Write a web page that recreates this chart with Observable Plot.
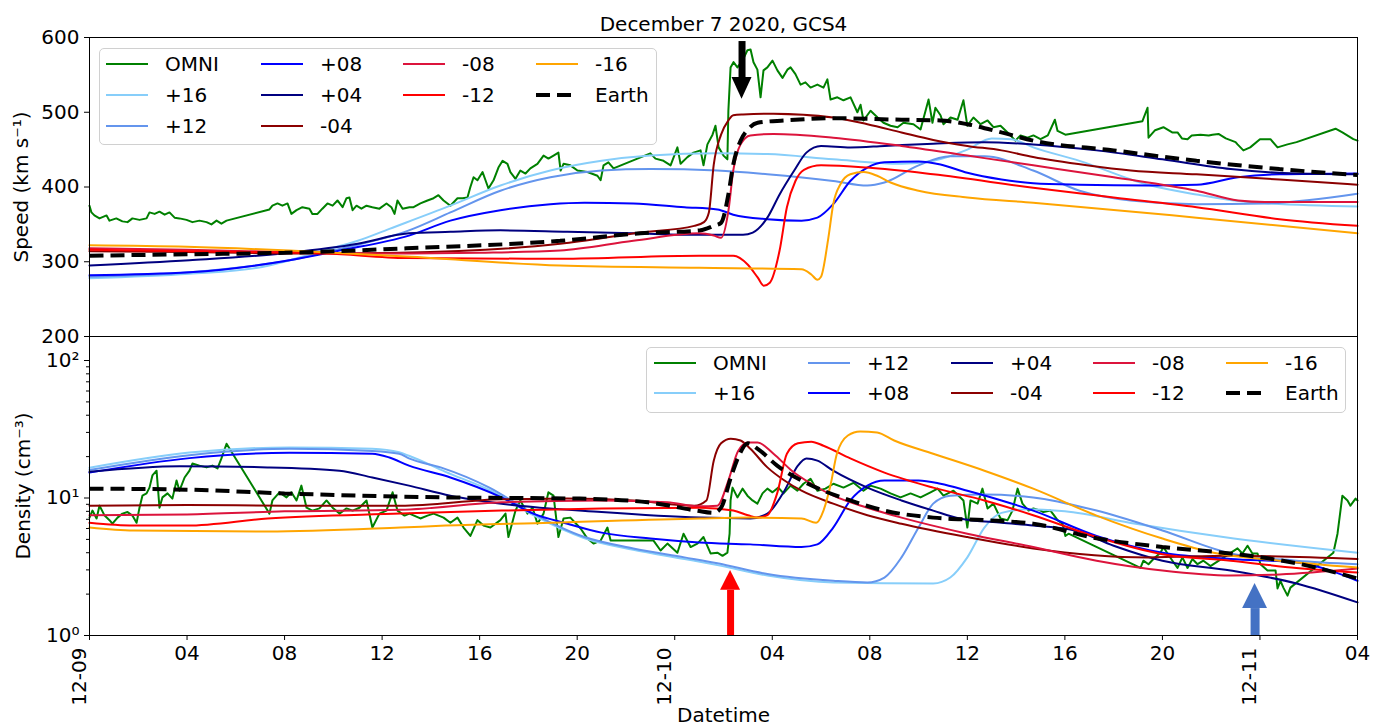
<!DOCTYPE html>
<html><head><meta charset="utf-8">
<script src="https://cdn.jsdelivr.net/npm/d3@7"></script>
<script src="https://cdn.jsdelivr.net/npm/@observablehq/plot@0.6"></script>
<style>
body{margin:0;background:#fff;font-family:"DejaVu Sans",sans-serif;}
#wrap{position:relative;width:1386px;height:728px;overflow:hidden;background:#fff;}
#wrap > svg{display:block;}
.legend{position:absolute;background:rgba(255,255,255,0.8);border:1px solid #d0d0d0;border-radius:5px;box-sizing:border-box;font-size:20px;color:#000;font-family:"DejaVu Sans",sans-serif;}
.lcol{position:absolute;top:0;}
.lent{display:flex;align-items:center;white-space:nowrap;}
.lent svg{flex:none;margin-right:17px;display:block;}
</style></head><body><div id="wrap"></div><script>
// ---------- axis ticks ----------
const hourTicks = [4, 8, 12, 16, 20, 28, 32, 36, 40, 44, 52];
const hourTickLabels = ["04", "08", "12", "16", "20", "04", "08", "12", "16", "20", "04"];
const dayTicks = [0, 24, 48];
const dayTickLabels = ["12-09", "12-10", "12-11"];
const allXTicks = [0, 4, 8, 12, 16, 20, 24, 28, 32, 36, 40, 44, 48, 52];
const speedTicks = [200, 300, 400, 500, 600];
const densityTicks = [1, 10, 100];
const densityTickLabels = ["10\u2070", "10\u00b9", "10\u00b2"];
const densityMinorTicks = [2, 3, 4, 5, 6, 7, 8, 9, 20, 30, 40, 50, 60, 70, 80, 90];
const speedDomain = [200, 600];
const densityDomain = [1, 149.5];
const hoursSpan = [0, 52];

// ---------- series ----------
const seriesNames = ["OMNI", "+16", "+12", "+08", "+04", "-04", "-08", "-12", "-16", "Earth"];
const seriesColors = ["#008000", "#87cefa", "#6495ed", "#0000ff", "#000080", "#8b0000", "#dc143c", "#ff0000", "#ffa500", "#000000"];

// [hour since 2020-12-09 00:00 UT, speed km/s]
const omniSpeed = [[0,375],[0.08,366],[0.2,362],[0.41,358],[0.7,362],[0.82,355],[1.1,358],[1.35,354],[1.56,353],[1.76,358],[2.05,356],[2.34,358],[2.46,366],[2.67,364],[2.87,367],[3.08,363],[3.28,366],[3.49,359],[3.69,358],[3.98,356],[4.22,353],[4.51,355],[4.8,353],[5.0,350],[5.21,355],[5.41,351],[5.62,355],
[7.38,370],[7.5,375],[7.71,378],[7.91,375],[8.12,378],[8.28,364],[8.49,369],[8.73,373],[9.02,371],[9.14,364],[9.35,364],[9.55,371],[9.76,378],[9.97,375],[10.17,382],[10.38,373],[10.54,385],[10.66,386],[10.79,369],[10.95,375],[11.15,371],[11.36,375],[11.6,373],[11.89,371],[12.18,378],[12.38,373],[12.51,364],[12.63,382],[12.84,371],[13.12,373],
[13.29,373],[13.57,378],[13.86,382],[14.11,385],[14.31,389],[14.52,382],[14.8,375],[15.09,385],[15.3,385],[15.5,386],[15.62,400],[15.75,413],[15.91,409],[16.12,420],[16.24,409],[16.36,398],[16.57,409],[16.77,426],[16.94,435],[17.14,431],[17.26,420],[17.47,411],[17.67,422],[17.88,418],[18.08,425],[18.37,431],[18.62,442],[18.82,438],[19.03,442],[19.23,446],[19.32,422],[19.44,431],[19.72,429],[20.01,422],[20.42,420],[20.83,415],[20.96,409],[21.08,429],[21.28,433],[21.49,425],
[23.0,445],[23.21,438],[23.54,435],[23.83,429],[24.11,453],[24.24,431],[24.52,440],[24.77,446],[25.06,449],[25.18,429],[25.34,457],[25.55,470],[25.67,482],[25.8,453],[26.0,442],[26.16,437],[26.2,502],[26.29,560],[26.41,567],[26.57,560],[26.78,569],[26.98,583],[27.11,584],[27.23,567],[27.39,557],[27.52,520],[27.64,556],[27.8,560],[28.01,569],[28.21,556],[28.42,546],[28.62,557],[28.75,560],[28.95,551],[29.16,537],[29.36,540],[29.57,533],[29.85,537],[30.1,533],[30.26,544],[30.39,517],[30.67,520],[30.92,516],[31.21,520],[31.49,500],[31.62,510],[31.74,489],[32.03,502],[32.32,493],[32.56,486],[32.85,482],[33.14,480],[33.38,486],[33.79,484],[34.08,477],[34.41,517],[34.57,486],[34.69,506],[34.9,496],[35.02,484],[35.31,493],[35.6,490],[35.84,516],[36.0,482],[36.25,493],[36.54,484],[36.83,489],[37.07,480],[37.36,482],[37.65,473],[37.97,462],[38.18,469],[38.47,466],[38.71,469],[39.0,464],[39.3,469],[39.59,490],[39.7,475],[40.02,470],
[43.18,488],[43.39,506],[43.43,466],[43.7,476],[44.04,480],[44.4,473],[44.62,473],[44.8,465],[45.03,464],[45.2,469],[45.56,470],[45.9,469],[46.05,470],[46.3,471],[46.6,465],[47.0,460],[47.08,457],[47.32,449],[47.6,453],[48.0,464],[48.43,464],[48.72,453],[49.13,457],[49.5,460],
[51.1,478],[51.38,473],[51.83,464],[52,462]];
const spdP16 = [[0,278],[4.1,284],[6.9,292],[9.6,315],[11,328],[12.3,344],[14.8,375],[16.85,402],[18.9,422],[21,435],[23,442],[25.75,445],[27.8,444],[30.5,437],[33.3,431],[34.6,435],[36,450],[37,465],[37.8,464],[38.7,453],[40.6,435],[43.4,403],[45.4,390],[47.5,380],[52,374]];
const spdP12 = [[0,280],[4.1,286],[8.2,302],[10.25,317],[13.1,342],[14.8,366],[16.85,395],[18.9,413],[21,422],[23,424],[25.75,422],[27.8,417],[30.5,408],[31.9,402],[32.6,406],[34,429],[35.3,441],[36.7,441],[38.7,422],[40.6,395],[42.7,382],[45.4,377],[48.2,378],[52,391]];
const spdP08 = [[0,282],[4.1,286],[8.2,302],[10.25,315],[13.1,335],[14.8,355],[16.85,369],[18.9,377],[20.3,379],[22.3,378],[24.4,373],[25.75,370],[26.4,363],[27.8,357],[29.2,355],[29.85,359],[30.5,377],[31.2,408],[31.9,426],[32.6,433],[34,434],[34.9,430],[36,419],[37.4,410],[38.7,405],[40.6,403],[43.4,402],[45.4,403],[47.1,413],[48.8,417],[52,418]];
const spdP04 = [[0,295],[4.1,302],[8.2,312],[11,324],[13.1,338],[14.8,340],[16.85,342],[19.6,340],[22.3,338],[25,336],[26.8,336],[27.2,339],[27.8,359],[28.3,390],[28.9,422],[29.4,446],[30,455],[31.2,453],[32.6,455],[34.6,458],[36.7,460],[38.7,457],[41.3,449],[44,437],[46.8,424],[49.5,418],[52,417]];
const spdM04 = [[0,314],[4,313],[9.7,311],[12.75,312],[19.3,324],[22.6,339],[24.8,348],[25.2,353],[25.4,366],[25.6,430],[25.9,470],[26.2,489],[26.4,496],[26.8,497],[28.05,498],[30.5,493],[31.9,484],[33.3,473],[34.6,463],[36,455],[37.4,449],[38.7,440],[40.9,429],[42.7,422],[45.4,417],[48.8,410],[52,403]];
const spdM08 = [[0,318],[4,316],[9.7,312],[12.75,311],[16,312],[19.3,315],[22.3,328],[25,338],[25.6,335],[25.9,332],[26.2,368],[26.4,422],[26.7,457],[27.1,469],[28.05,471],[30.5,466],[33.3,455],[36,442],[38.7,429],[42,413],[45.4,395],[47.1,382],[48.2,380],[52,380]];
const spdM12 = [[0,316],[4,314],[9.7,311],[13,305],[19.3,304],[25,308],[26.4,308],[27.0,296],[27.4,279],[27.65,268],[27.9,272],[28.3,315],[28.6,373],[28.95,408],[29.3,423],[30,429],[31.9,426],[34.6,417],[38.7,399],[42,386],[45.4,373],[48.8,357],[52,348]];
const spdM16 = [[0,322],[4,320],[8.2,315],[13,307],[19.3,295],[25,292],[29.2,290],[29.6,283],[29.85,276],[30.0,280],[30.3,332],[30.5,377],[30.8,404],[31.2,417],[31.75,420],[32.3,415],[32.85,406],[34,395],[36,386],[38.7,379],[45.4,359],[52,338]];
const spdEarth = [[0,308],[4,310],[8,312],[13,318],[19.3,328],[22.6,338],[25.05,342],[25.6,348],[25.9,352],[26.2,390],[26.4,430],[26.7,462],[27.0,477],[27.4,486],[28.5,489],[30.5,492],[33.3,490],[34.9,489],[36.0,484],[37.4,473],[38.7,462],[42.0,449],[45.4,435],[48.8,424],[52,416]];

// [hour, density cm^-3]
const omniDensity = [[0,7.2],[0.12,8.1],[0.29,7.1],[0.41,8.8],[0.62,7.45],[0.82,6.9],[0.94,6.5],[1.15,7.2],[1.35,7.7],[1.56,7.9],[1.76,7.45],[1.93,6.6],[2.05,8.5],[2.17,10.4],[2.34,10.8],[2.46,11.9],[2.58,14.6],[2.75,15.8],[2.87,8.5],[2.99,10.1],[3.2,10.8],[3.4,9.9],[3.57,13.4],[3.69,11.3],[3.9,14.1],[4.1,15.8],[4.22,17.8],[4.51,17.2],[4.8,16.7],[5.04,17.2],[5.25,16.4],[5.41,19.4],[5.62,24.8],
[7.38,7.7],[7.5,9.6],[7.79,11.0],[8.08,10.1],[8.28,11.0],[8.49,9.6],[8.69,12.3],[8.9,8.5],[9.14,8.1],[9.43,8.4],[9.72,9.6],[9.97,8.5],[10.25,7.7],[10.54,8.4],[10.79,8.1],[11.07,8.5],[11.36,9.6],[11.6,6.1],[11.89,7.7],[12.18,8.1],[12.43,11.0],[12.63,8.1],[12.92,7.45],[13.12,7.7],[13.57,7.1],[13.86,7.45],[14.11,7.7],[14.52,7.2],[14.8,6.6],[15.09,7.2],[15.34,6.1],[15.62,5.3],[15.91,6.9],[16.16,6.3],[16.44,6.1],[16.85,6.9],[17.06,7.7],[17.18,5.2],[17.47,8.1],[17.67,9.6],[17.96,7.7],[18.17,8.5],[18.37,6.5],[18.62,7.7],[18.82,11.0],[19.03,10.4],[19.23,5.2],[19.44,7.1],[19.72,7.2],[20.14,6.0],[20.42,5.07],[20.67,4.66],[20.96,4.9],[21.24,6.1],[21.37,4.9],
[23.13,4.9],[23.42,4.15],[23.7,4.66],[24.11,4.0],[24.36,5.5],[24.65,4.4],[24.93,4.66],[25.18,5.2],[25.47,3.95],[25.75,4.0],[25.96,3.8],[26.16,4.0],[26.25,5.5],[26.29,9.6],[26.37,11.9],[26.57,10.1],[26.78,11.7],[26.98,10.4],[27.19,9.6],[27.39,9.1],[27.6,10.8],[27.8,11.7],[28.01,11.0],[28.25,11.9],[28.46,10.8],[28.75,12.3],[29.03,11.3],[29.28,12.7],[29.57,13.8],[29.85,11.3],[30.18,11.7],[30.51,12.7],[30.92,11.9],[31.33,12.9],[31.74,11.3],[32.03,12.3],[32.44,11.7],[32.85,10.8],[33.26,10.1],[33.67,10.8],[34.08,10.1],[34.49,11.0],[34.78,11.7],[35.02,10.4],[35.43,11.3],[35.84,9.6],[36.0,6.1],[36.13,9.6],[36.42,9.1],[36.62,11.7],[36.83,8.4],[37.07,9.1],[37.36,7.1],[37.65,6.9],[37.85,8.1],[38.06,11.7],[38.26,9.1],[38.51,8.1],[38.71,8.4],[39.0,8.1],[39.12,7.9],[39.41,8.1],[39.7,6.9],[39.9,6.5],[39.94,6.1],[40.02,5.3],[40.15,5.5],
[43.1,3.1],[43.22,3.5],[43.43,3.3],[43.63,3.6],[43.92,4.0],[44.04,4.4],[44.21,3.95],[44.41,3.5],[44.62,3.1],[44.82,3.7],[45.03,3.1],[45.23,3.6],[45.44,3.3],[45.68,3.5],[45.97,3.2],
[47.08,4.3],[47.28,3.95],[47.49,4.5],[47.69,3.95],[47.9,3.95],[48.02,3.3],[48.31,2.97],[48.64,2.97],[48.72,2.2],[48.84,2.5],[48.96,2.23],[49.13,1.95],[49.25,2.23],
[51.01,4.0],[51.18,5.5],[51.38,10.4],[51.59,9.6],[51.71,8.8],[51.92,9.9],[52,9.6]];
const denP16 = [[0,16.6],[4.1,21.4],[8.2,23.3],[11.6,22.8],[12.7,21.5],[13.1,20.3],[14.6,15.5],[16.5,11.2],[18.2,7.5],[20.3,5.1],[22.3,4.2],[24.4,3.6],[25.75,3.25],[27.8,2.73],[30.5,2.43],[34.6,2.39],[35.3,2.64],[36,3.7],[36.7,6.1],[37.4,7.8],[38.5,8.3],[40,8.0],[42.9,6.5],[46.5,5.2],[52,4.0]];
const denP12 = [[0,16],[4.1,20.5],[8.2,22.8],[11.6,22],[12.7,21],[13.1,19.4],[14.4,16.7],[16.4,11.9],[18.2,7.7],[20.3,5.2],[22.3,4.3],[24.4,3.7],[25.75,3.35],[27.8,2.8],[30.5,2.5],[31.9,2.43],[32.6,2.64],[33.3,3.7],[34,6.1],[34.6,9.1],[35.3,10.4],[36.7,10.6],[38.7,10.1],[41.3,8.1],[44,5.8],[46.8,3.95],[49.5,3.5],[52,3.3]];
const denP08 = [[0,15.3],[4.1,19.5],[8.2,21.3],[11.6,21],[12.3,19.7],[13.1,17.2],[14.8,14.1],[16.9,10.1],[18.2,7.7],[19.6,6.5],[21,5.6],[23,5.07],[25,4.75],[27.1,4.6],[29.2,4.4],[29.85,4.6],[30.5,6.1],[31.2,9.6],[31.9,12.3],[32.6,13.4],[34,13.4],[34.9,12.7],[36,11.3],[37.4,9.6],[38.7,8.1],[41.3,5.3],[44,4.0],[46.8,3.6],[49.5,3.4],[52,2.5]];
const denP04 = [[0,15.5],[3.7,17.0],[7.3,16.7],[10.25,15.8],[11.6,14.1],[13.1,12.3],[14.8,10.4],[16.9,9.1],[21,7.9],[25,7.2],[27.1,7.1],[27.8,7.7],[28.5,11.3],[29.05,17.2],[29.4,19.4],[29.85,18.7],[30.5,15.8],[31.9,11.9],[33.3,9.6],[34.6,8.1],[35.7,7.1],[37.4,6.6],[38.7,6.3],[40.4,5.8],[42,4.5],[44,3.5],[46.8,2.97],[49.5,2.39],[52,1.74]];
const denM04 = [[0,8.8],[4,8.9],[8,8.8],[12.75,8.8],[16.9,9.8],[19.6,9.9],[22.3,9.6],[24.8,8.8],[25.3,9.6],[25.6,18.7],[25.9,25],[26.3,27],[26.7,26.2],[27.1,22.8],[27.8,16.7],[28.5,13.4],[29.2,11.3],[30.5,9.1],[31.9,7.5],[33.3,6.5],[36,5.2],[38.7,4.3],[43.4,3.7],[46.8,3.8],[52,3.6]];
const denM08 = [[0,7.5],[4,7.6],[8,8.0],[12.75,8.2],[16.9,9.3],[21,9.6],[23.7,9.3],[25,8.7],[25.75,8.8],[26.2,13.4],[26.6,22],[27,25.3],[27.4,25.3],[28.05,21],[28.8,15.8],[29.6,12.7],[30.5,10.4],[31.9,8.5],[33.3,7.2],[36,5.5],[38.7,4.4],[41.3,3.5],[44,2.97],[46.8,2.73],[48.8,2.78],[52,3.07]];
const denM12 = [[0,6.6],[1.8,6.3],[4,6.3],[7.3,7.1],[12.75,7.7],[16.9,8.1],[21,8.4],[25,8.5],[26.4,8.1],[27,7.5],[27.4,7.2],[27.8,7.5],[28.2,10.8],[28.6,21],[29.05,25],[29.6,25.7],[30.1,24],[31.2,19.4],[32.6,15.3],[34.6,11.9],[36.7,9.6],[38.7,7.5],[41.3,5.2],[44,3.9],[46.8,3.5],[49.5,3.1],[52,2.87]];
const denM16 = [[0,6.1],[1.8,5.8],[7.3,5.7],[12.75,6.1],[14.6,6.3],[18.9,6.6],[25,7.1],[27.1,7.2],[29.2,7.1],[29.8,6.6],[30.1,8.1],[30.4,12.7],[30.65,21],[31.1,28.5],[31.6,30.5],[32.3,30],[33,26.2],[34.6,21],[36.7,15.8],[38.7,11.7],[41.3,7.45],[44,5.07],[46.1,4.0],[48.8,3.5],[52,3.12]];
const denEarth = [[0,11.7],[4,11.5],[8,10.8],[14.6,10.1],[20.1,9.9],[22.9,9.3],[24.9,8.1],[25.6,7.8],[25.9,8.5],[26.3,14.1],[26.6,19.7],[27,25],[27.4,22.8],[28.2,17.2],[29.2,13.4],[30.1,11.3],[31.2,9.6],[32.6,8.1],[34.6,7.2],[36.7,6.9],[38.7,6.5],[41.3,5.1],[44,4.4],[46.8,3.95],[49.5,3.35],[52,2.6]];

// annotation arrows: [hour, shaft end, head base, tip, head half-width in hours]
const speedArrow = [26.76, 594.6, 546.5, 517.5, 0.41];
const redArrow = [26.29, 1, 2.13, 2.97, 0.41];
const blueArrow = [47.8, 1, 1.57, 2.39, 0.51];

const titleText = "December 7 2020, GCS4";
const speedLabel = "Speed (km s\u207b\u00b9)";
const densityLabel = "Density (cm\u207b\u00b3)";
const xLabel = "Datetime";

// ---------- build ----------
const t0 = Date.UTC(2020, 11, 9, 0, 0);
const T = h => new Date(t0 + h * 3600e3);
const speedSeries = [omniSpeed, spdP16, spdP12, spdP08, spdP04, spdM04, spdM08, spdM12, spdM16, spdEarth];
const densitySeries = [omniDensity, denP16, denP12, denP08, denP04, denM04, denM08, denM12, denM16, denEarth];
const FONT = {fontFamily: "DejaVu Sans, sans-serif", fontSize: "20px", overflow: "visible", background: "transparent"};
const W = 1386, ML = 89, MR = 29;
const xScale = {type: "utc", domain: hoursSpan.map(T), axis: null};

function lineMarks(series) {
  return series.map((s, i) => {
    const rows = s.map(([h, v]) => ({t: T(h), v}));
    const name = seriesNames[i];
    if (name === "OMNI") return Plot.line(rows, {x: "t", y: "v", stroke: seriesColors[i], strokeWidth: 2});
    if (name === "Earth") return Plot.line(rows, {x: "t", y: "v", stroke: seriesColors[i], strokeWidth: 4, strokeDasharray: "14,7", strokeLinejoin: "miter", strokeLinecap: "butt", curve: "monotone-x"});
    return Plot.line(rows, {x: "t", y: "v", stroke: seriesColors[i], strokeWidth: 2, curve: "monotone-x"});
  });
}
function arrowMarks(a, color, shaftW) {
  const [h, y0, yb, ytip, hw] = a;
  const head = [{t: T(h - hw), b: yb, v: yb}, {t: T(h), b: yb, v: ytip}, {t: T(h + hw), b: yb, v: yb}];
  return [
    Plot.ruleX([T(h)], {x: d => d, y1: y0, y2: yb, stroke: color, strokeWidth: shaftW}),
    Plot.areaY(head, {x: "t", y1: "b", y2: "v", fill: color})
  ];
}

const topPlot = Plot.plot({
  width: W, height: 336, marginTop: 37, marginBottom: 0, marginLeft: ML, marginRight: MR,
  style: FONT,
  x: xScale,
  y: {domain: speedDomain, label: null},
  marks: [
    Plot.axisY({ticks: speedTicks, tickSize: 5, tickPadding: 5, tickFormat: d => String(d), label: null}),
    ...lineMarks(speedSeries),
    ...arrowMarks(speedArrow, "#000", 7),
    Plot.frame({stroke: "#000", strokeWidth: 1}),
    Plot.text([titleText], {text: d => d, frameAnchor: "top", textAnchor: "middle", dy: -7, lineAnchor: "bottom"}),
    Plot.text([speedLabel], {text: d => d, frameAnchor: "left", textAnchor: "middle", rotate: -90, dx: -62, lineAnchor: "bottom"})
  ]
});

const bottomPlot = Plot.plot({
  width: W, height: 392, marginTop: 0, marginBottom: 93, marginLeft: ML, marginRight: MR,
  style: FONT,
  x: xScale,
  y: {type: "log", domain: densityDomain, label: null},
  marks: [
    Plot.axisY({ticks: densityTicks, tickSize: 5, tickPadding: 5, tickFormat: d => densityTickLabels[densityTicks.indexOf(d)], label: null}),
    Plot.axisY({ticks: densityMinorTicks, tickSize: 3, tickFormat: () => "", label: null}),
    Plot.axisX({ticks: allXTicks.map(T), tickSize: 5, tickFormat: () => "", label: null}),
    Plot.text(hourTicks.map((h, i) => ({t: T(h), s: hourTickLabels[i]})), {x: "t", text: "s", frameAnchor: "bottom", textAnchor: "middle", dy: 10, lineAnchor: "top"}),
    Plot.text(dayTicks.map((h, i) => ({t: T(h), s: dayTickLabels[i]})), {x: "t", text: "s", frameAnchor: "bottom", rotate: -90, textAnchor: "end", lineAnchor: "bottom", dx: -4, dy: 12}),
    ...lineMarks(densitySeries),
    ...arrowMarks(redArrow, "#ff0000", 7),
    ...arrowMarks(blueArrow, "#4472c4", 9),
    Plot.frame({stroke: "#000", strokeWidth: 1}),
    Plot.text([densityLabel], {text: d => d, frameAnchor: "left", textAnchor: "middle", rotate: -90, dx: -60, lineAnchor: "bottom"}),
    Plot.text([xLabel], {text: d => d, frameAnchor: "bottom", textAnchor: "middle", dy: 86, lineAnchor: "bottom"})
  ]
});

const wrap = document.getElementById("wrap");
wrap.appendChild(topPlot);
wrap.appendChild(bottomPlot);

function legend(cfg) {
  const div = document.createElement("div");
  div.className = "legend";
  Object.assign(div.style, {left: cfg.left + "px", top: cfg.top + "px", width: cfg.width + "px", height: cfg.height + "px"});
  cfg.columns.forEach((col, ci) => {
    const c = document.createElement("div");
    c.className = "lcol";
    c.style.left = cfg.colLefts[ci] + "px";
    c.style.top = cfg.padTop + "px";
    col.forEach(name => {
      const i = seriesNames.indexOf(name);
      const e = document.createElement("div");
      e.className = "lent";
      e.style.height = cfg.rowH + "px";
      const dash = name === "Earth" ? ' stroke-dasharray="14,7"' : "";
      const sw = name === "Earth" ? 4 : 2;
      e.innerHTML = `<svg width="42" height="12"><line x1="0" x2="42" y1="6" y2="6" stroke="${seriesColors[i]}" stroke-width="${sw}"${dash}/></svg><span>${name}</span>`;
      c.appendChild(e);
    });
    div.appendChild(c);
  });
  wrap.appendChild(div);
}
legend({left: 99, top: 48, width: 558, height: 97, rowH: 30.7, padTop: 0,
  columns: [["OMNI", "+16", "+12"], ["+08", "+04", "-04"], ["-08", "-12"], ["-16", "Earth"]],
  colLefts: [6, 161, 303, 436]});
legend({left: 646, top: 347, width: 700, height: 66, rowH: 30, padTop: 0,
  columns: [["OMNI", "+16"], ["+12", "+08"], ["+04", "-04"], ["-08", "-12"], ["-16", "Earth"]],
  colLefts: [7, 161, 304, 446, 579]});
</script></body></html>
